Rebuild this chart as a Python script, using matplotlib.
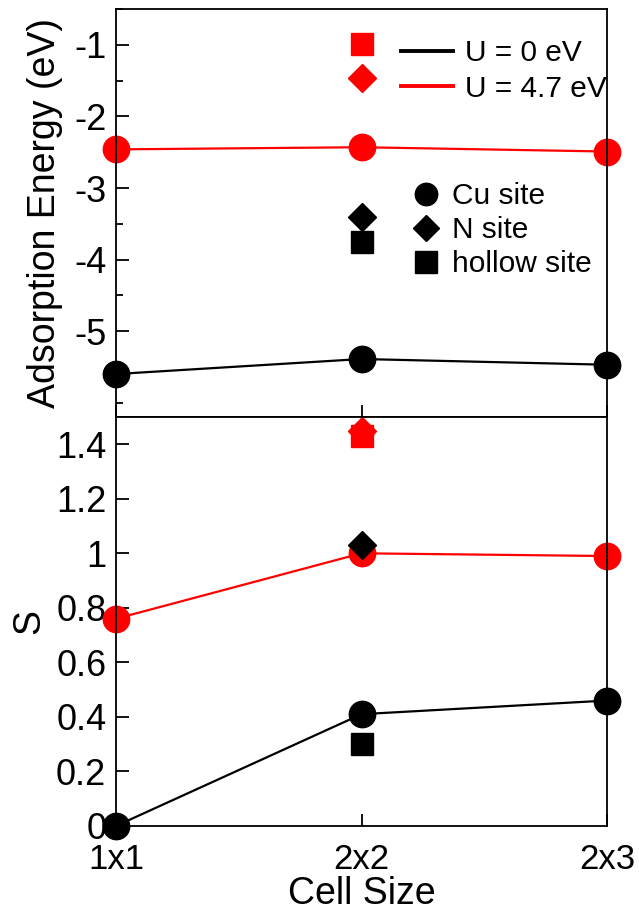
import matplotlib
matplotlib.use("Agg")
import matplotlib.pyplot as plt
from matplotlib.lines import Line2D
from matplotlib.ticker import MultipleLocator, FixedLocator

plt.rcParams['font.family'] = ['Liberation Sans', 'DejaVu Sans']

# data
cells = ["1x1", "2x2", "2x3"]

# adsorption energy (eV), Cu site
e_u0_cu = [-5.60, -5.39, -5.47]
e_u47_cu = [-2.46, -2.43, -2.49]
# 2x2 only: N site / hollow site
e_u0_n, e_u0_hollow = -3.40, -3.75
e_u47_n, e_u47_hollow = -1.46, -0.99

# S, Cu site
s_u0_cu = [0.0, 0.41, 0.46]
s_u47_cu = [0.76, 1.00, 0.99]
s_u0_n, s_u0_hollow = 1.03, 0.30
s_u47_n, s_u47_hollow = 1.45, 1.43

x = list(range(len(cells)))
x22 = cells.index("2x2")

fig = plt.figure(figsize=(6.39, 9.15), dpi=100)
ax1 = fig.add_axes([0.1815, 0.5443, 0.7685, 0.4457])
ax2 = fig.add_axes([0.1815, 0.0973, 0.7685, 0.4470])

lw = 1.6
ms_c, ms_s, ms_d = 19, 15.5, 14

for ax in (ax1, ax2):
    for sp in ax.spines.values():
        sp.set_linewidth(1.3)
    ax.set_xlim(0, 2)
    ax.tick_params(direction='in', labelsize=26, length=9, width=1.3, pad=7,
                   right=False, top=False)
    ax.tick_params(which='minor', direction='in', length=5, width=1.3)

# top panel
ax1.plot(x, e_u0_cu, '-', color='black', lw=lw, marker='o', ms=ms_c, clip_on=False)
ax1.plot(x, e_u47_cu, '-', color='red', lw=lw, marker='o', ms=ms_c, clip_on=False)
ax1.plot(x22, e_u0_n, 'D', color='black', ms=ms_d)
ax1.plot(x22, e_u0_hollow, 's', color='black', ms=ms_s)
ax1.plot(x22, e_u47_n, 'D', color='red', ms=ms_d)
ax1.plot(x22, e_u47_hollow, 's', color='red', ms=ms_s)
ax1.set_ylim(-6.2, -0.5)
ax1.yaxis.set_major_locator(FixedLocator([-5, -4, -3, -2, -1]))
ax1.yaxis.set_minor_locator(MultipleLocator(0.5))
ax1.set_yticklabels(["-5", "-4", "-3", "-2", "-1"])
ax1.set_xticks(x)
ax1.tick_params(axis='x', labelbottom=False)
ax1.set_ylabel("Adsorption Energy (eV)", fontsize=27, labelpad=8)

line_handles = [Line2D([], [], color='black', lw=2.8), Line2D([], [], color='red', lw=2.8)]
leg1 = ax1.legend(line_handles, ["U = 0 eV", "U = 4.7 eV"], loc='center left',
                  bbox_to_anchor=(0.58, 0.848), frameon=False, fontsize=21.5,
                  handlelength=1.75, handletextpad=0.4, borderpad=0,
                  borderaxespad=0, labelspacing=0.25)
ax1.add_artist(leg1)

marker_handles = [Line2D([], [], color='black', ls='none', marker='o', ms=ms_c * 0.85),
                  Line2D([], [], color='black', ls='none', marker='D', ms=ms_d * 0.95),
                  Line2D([], [], color='black', ls='none', marker='s', ms=ms_s)]
ax1.legend(marker_handles, ["Cu site", "N site", "hollow site"], loc='center left',
           bbox_to_anchor=(0.60, 0.458), frameon=False, fontsize=21.5,
           handlelength=1.0, handletextpad=0.4, borderpad=0,
           borderaxespad=0, labelspacing=0.2)

# bottom panel
ax2.plot(x, s_u0_cu, '-', color='black', lw=lw, marker='o', ms=ms_c, clip_on=False)
ax2.plot(x, s_u47_cu, '-', color='red', lw=lw, marker='o', ms=ms_c, clip_on=False)
ax2.plot(x22, s_u0_n, 'D', color='black', ms=ms_d)
ax2.plot(x22, s_u0_hollow, 's', color='black', ms=ms_s)
ax2.plot(x22, s_u47_hollow, 's', color='red', ms=ms_s, clip_on=False)
ax2.plot(x22, s_u47_n, 'D', color='red', ms=ms_d, clip_on=False)
ax2.set_ylim(0, 1.5)
ax2.yaxis.set_major_locator(FixedLocator([0, 0.2, 0.4, 0.6, 0.8, 1.0, 1.2, 1.4]))
ax2.set_yticklabels(["0", "0.2", "0.4", "0.6", "0.8", "1", "1.2", "1.4"])
ax2.set_xticks(x)
ax2.set_xticklabels(cells)
ax2.tick_params(axis='x', pad=12, labelsize=25)
ax2.set_ylabel("S", fontsize=27, labelpad=6)
ax2.set_xlabel("Cell Size", fontsize=27, labelpad=0)

fig.savefig("out.png", dpi=100)
